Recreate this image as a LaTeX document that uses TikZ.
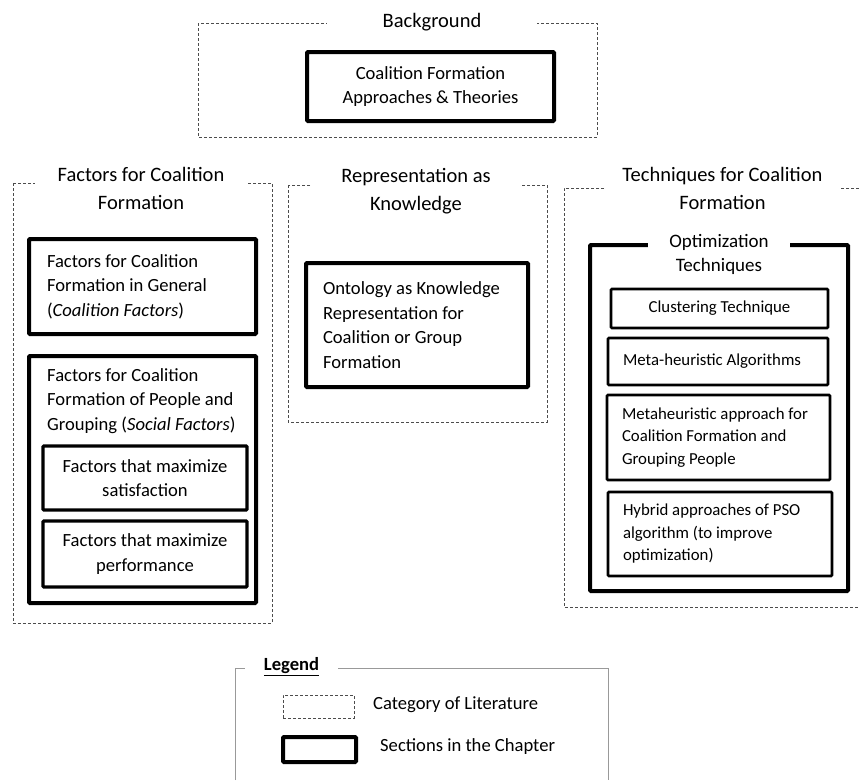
\documentclass[tikz,border=0pt]{standalone}
\usepackage{fontspec}
\setmainfont{Carlito}
\tikzset{
  cat/.style={draw=black!70,line width=0.8pt,dash pattern=on 3pt off 2pt},
  sect/.style={draw,line width=4pt,rounded corners=1pt},
  subsect/.style={draw,line width=3.2pt,rounded corners=1pt},
  techbox/.style={draw,line width=2.7pt,rounded corners=1pt},
  legline/.style={draw=black!40,line width=1pt},
  head/.style={fill=white,inner sep=0pt,align=flush center,font=\fontsize{20.5}{28}\selectfont},
  body/.style={font=\fontsize{18.6}{24.5}\selectfont},
  small/.style={font=\fontsize{16.8}{22.5}\selectfont}
}
\begin{document}
\begin{tikzpicture}[x=1pt,y=-1pt]
\useasboundingbox (0,0) rectangle (859,780);
\draw[cat] (198,23) rectangle (597,137);
\node[head,text width=210] (bghead) at (432,22) {Background};
\node[sect,body,minimum width=247,minimum height=69,align=flush center] (theory) at (430.5,86.5) {Coalition Formation\\Approaches \& Theories};
\draw[cat] (13,183) rectangle (272,623);
\node[head,text width=212] (facthead) at (141,188.5) {Factors for Coalition\\Formation};
\node[sect,body,minimum width=227,minimum height=95,text width=191,align=flush left] (general) at (142.5,286.5) {Factors for Coalition\\Formation in General\\(\textit{Coalition Factors})};
\node[sect,minimum width=227,minimum height=247] (social) at (142.5,479.5) {};
\node[body,text width=205,align=flush left,anchor=west,inner sep=0pt] (socialtext) at (47,401) {Factors for Coalition\\Formation of People and\\Grouping (\textit{Social Factors})};
\node[subsect,body,minimum width=204,minimum height=64,align=flush center] (satisfy) at (145,478) {Factors that maximize\\satisfaction};
\node[subsect,body,minimum width=204,minimum height=66,align=flush center] (perform) at (145,554) {Factors that maximize\\performance};
\draw[cat] (288,185) rectangle (547,422);
\node[head,text width=208] (rephead) at (416,191) {Representation as\\Knowledge};
\node[sect,body,minimum width=222,minimum height=124,text width=188,align=flush left] (ontology) at (417,325) {Ontology as Knowledge\\Representation for\\Coalition or Group\\Formation};
\draw[cat] (859,188) -- (564,188) -- (564,607) -- (859,607);
\node[head,text width=235] (techhead) at (722.5,188.5) {Techniques for Coalition\\Formation};
\node[sect,minimum width=258,minimum height=346] (optim) at (719,418) {};
\node[head,font=\fontsize{19}{24}\selectfont,text width=142] (optimhead) at (719,254) {Optimization\\Techniques};
\node[techbox,small,minimum width=217,minimum height=39] (cluster) at (719.5,308.5) {Clustering Technique};
\node[techbox,small,minimum width=220,minimum height=47,text width=190,align=flush left] (metaalg) at (718,361.5) {Meta-heuristic Algorithms};
\node[techbox,small,minimum width=223,minimum height=85,text width=193,align=flush left] (metaapp) at (718.5,437.5) {Metaheuristic approach for\\Coalition Formation and\\Grouping People};
\node[techbox,small,minimum width=224,minimum height=84,text width=194,align=flush left] (hybrid) at (720,534) {Hybrid approaches of PSO\\algorithm (to improve\\optimization)};
\draw[legline] (235,780) -- (235,668) -- (608,668) -- (608,780);
\node[head,font=\bfseries\fontsize{18.6}{24}\selectfont,text width=93] (legend) at (291.5,667) {\underline{Legend}};
\node[cat,minimum width=71,minimum height=23] (catkey) at (318.5,706.5) {};
\node[sect,minimum width=73,minimum height=25] (sectkey) at (319.5,749.5) {};
\node[body,anchor=west,inner sep=0pt] (catlabel) at (373,705) {Category of Literature};
\node[body,anchor=west,inner sep=0pt] (sectlabel) at (380,747) {Sections in the Chapter};
\end{tikzpicture}
\end{document}
